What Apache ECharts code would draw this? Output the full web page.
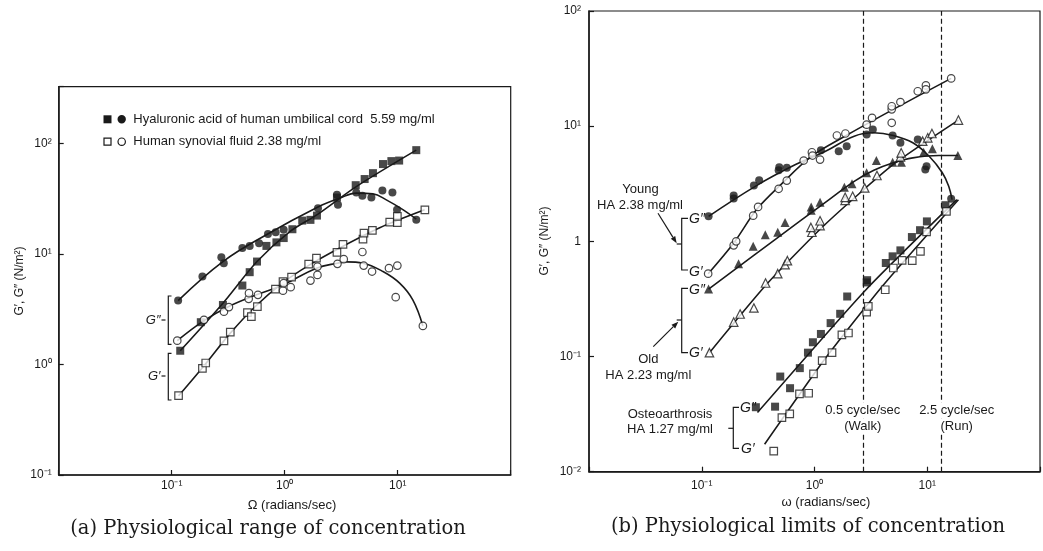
<!DOCTYPE html>
<html><head><meta charset="utf-8">
<script src="https://cdn.jsdelivr.net/npm/echarts@6/dist/echarts.min.js"></script>
<style>html,body{margin:0;padding:0;background:#fff}#c{width:1043px;height:551px}</style>
</head><body><div id="c"></div>
<script>
// ---------- tick labels ----------
const leftXTickValues = [0.1, 1, 10];
const leftXTickLabels = ['10\u207B\u00B9', '10\u2070', '10\u00B9'];
const leftYTickValues = [0.1, 1, 10, 100];
const leftYTickLabels = ['10\u207B\u00B9', '10\u2070', '10\u00B9', '10\u00B2'];
const rightXTickValues = [0.1, 1, 10];
const rightXTickLabels = ['10\u207B\u00B9', '10\u2070', '10\u00B9'];
const rightYTickValues = [0.01, 0.1, 1, 10, 100];
const rightYTickLabels = ['10\u207B\u00B2', '10\u207B\u00B9', '1', '10\u00B9', '10\u00B2'];

// ---------- (a) left panel data: [omega, modulus] ----------
const umbGp = [[0.119,1.33],[0.181,2.41],[0.284,3.45],[0.422,5.17],[0.49,6.83],[0.569,8.52],[0.689,11.8],[0.845,12.7],[0.98,13.9],[1.17,16.7],[1.43,20],[1.69,20.3],[1.93,22.2],[2.9,32.3],[4.25,41.8],[5.1,47.5],[6.04,53.7],[7.41,64.9],[8.79,69],[10.3,69.8],[14.6,86.7]];
const umbGpp = [[0.114,3.78],[0.187,6.24],[0.275,9.34],[0.289,8.24],[0.422,11.3],[0.49,11.8],[0.593,12.5],[0.711,15.1],[0.832,15.7],[0.98,16.5],[1.97,25.9],[2.9,34.2],[2.96,27.8],[4.3,35.9],[4.87,33.5],[5.85,32.3],[7.32,37.4],[8.98,35.9],[9.86,25],[14.6,20.3]];
const synGp = [[0.115,0.522],[0.187,0.92],[0.2,1.03],[0.29,1.63],[0.33,1.96],[0.468,2.94],[0.507,2.71],[0.573,3.33],[0.828,4.8],[0.966,5.61],[1.15,6.15],[1.63,8.07],[1.91,9.15],[2.9,10.3],[3.28,12.2],[4.93,13.6],[5.03,15.4],[5.97,16.3],[8.5,19.4],[9.93,19.2],[9.93,21.8],[17.4,25]];
const synGpp = [[0.112,1.64],[0.193,2.53],[0.29,3.0],[0.321,3.3],[0.48,3.92],[0.483,4.41],[0.58,4.26],[0.966,4.65],[0.98,5.43],[1.13,5.0],[1.69,5.73],[1.95,6.45],[1.95,7.67],[2.93,8.12],[3.33,8.96],[4.87,10.4],[5.0,7.84],[5.93,6.92],[8.37,7.42],[9.93,7.84],[9.6,4.06],[16.7,2.23]];
const umbGpCurve = [[0.119,1.33],[0.284,3.58],[0.569,8.52],[1.11,15.9],[1.97,22.9],[4.3,40.6],[14.6,86.7]];
const umbGppCurve = [[0.114,3.78],[0.284,8.52],[0.689,14.9],[1.97,26.5],[3.07,31.9],[4.3,35.4],[6.04,34.9],[7.93,30.8],[11.2,25],[14.6,20.6]];
const synGpCurve = [[0.115,0.52],[0.196,0.99],[0.326,1.89],[0.543,3.31],[0.96,5.47],[1.66,7.95],[3.07,11.3],[6.93,17.2],[17.3,25]];
const synGppCurve = [[0.112,1.64],[0.193,2.49],[0.326,3.38],[0.562,4.26],[0.966,5.24],[1.91,7.42],[2.93,8.24],[3.52,8.46],[4.93,8.24],[7.41,6.92],[10.4,5.43],[13.6,3.83],[16.7,2.23]];

// ---------- (b) right panel data ----------
const youngGpp = [[0.115,1.65],[0.192,2.5],[0.192,2.35],[0.29,3.05],[0.323,3.39],[0.481,4.14],[0.487,4.4],[0.568,4.35],[1.14,6.18],[1.64,6.06],[1.93,6.7],[2.9,8.47],[3.29,9.36],[4.93,8.3],[5.78,7.17],[8.24,7.66],[9.61,4.2],[9.86,4.49],[16.3,2.34]];
const youngGp = [[0.114,0.524],[0.192,0.923],[0.202,1.0],[0.286,1.67],[0.316,1.99],[0.481,2.86],[0.568,3.37],[0.802,5.03],[0.948,5.94],[0.96,5.56],[1.12,5.13],[1.58,8.3],[1.88,8.64],[2.9,10.3],[3.24,11.8],[4.84,10.7],[4.84,14],[4.84,14.9],[5.78,16.2],[8.24,20.1],[9.73,22.6],[9.73,20.9],[16.3,26]];
const oldGpp = [[0.115,0.385],[0.212,0.64],[0.286,0.905],[0.366,1.14],[0.472,1.2],[0.548,1.46],[0.935,1.86],[0.935,1.99],[1.12,2.18],[1.84,2.95],[2.15,3.17],[2.9,3.94],[3.54,5.03],[4.93,4.86],[5.9,4.86],[9.29,5.94],[11.1,6.36],[18.7,5.56]];
const oldGp = [[0.117,0.108],[0.192,0.199],[0.219,0.234],[0.29,0.264],[0.368,0.435],[0.472,0.524],[0.548,0.627],[0.575,0.679],[0.948,1.2],[0.929,1.32],[1.12,1.37],[1.12,1.51],[1.87,2.27],[1.87,2.41],[2.18,2.46],[2.79,2.91],[3.58,3.73],[5.78,5.42],[5.87,5.87],[9.11,7.41],[10.1,7.93],[11,8.64],[18.9,11.3]];
const oaGpp = [[0.302,0.0363],[0.447,0.0367],[0.497,0.067],[0.607,0.0531],[0.741,0.0793],[0.875,0.108],[0.968,0.133],[1.14,0.157],[1.39,0.195],[1.69,0.235],[1.95,0.332],[2.9,0.44],[2.93,0.46],[4.29,0.649],[4.93,0.741],[5.78,0.835],[7.31,1.09],[8.63,1.25],[9.93,1.49],[14.5,2.06]];
const oaGp = [[0.435,0.0151],[0.514,0.0295],[0.603,0.0318],[0.736,0.0474],[0.887,0.048],[0.98,0.0707],[1.17,0.0923],[1.43,0.108],[1.75,0.154],[2.0,0.16],[2.9,0.243],[3.0,0.272],[4.24,0.38],[5.0,0.587],[5.99,0.684],[7.36,0.679],[8.7,0.818],[9.86,1.21],[14.8,1.82]];
const youngGppCurve = [[0.115,1.65],[0.306,3.05],[0.679,4.64],[1.24,6.03],[2.25,8.19],[3.36,8.76],[5.0,8.3],[7.45,7.17],[10.4,5.48],[13.6,3.94],[15.5,3.01],[16.6,2.3]];
const youngGpCurve = [[0.114,0.524],[0.193,0.974],[0.306,1.89],[0.503,3.11],[0.935,5.46],[1.84,8.13],[5.0,14],[16.3,26]];
const oldGppCurve = [[0.115,0.385],[0.456,1.05],[1.24,2.17],[2.25,3.32],[3.36,4.14],[5.0,4.81],[7.45,5.31],[12.7,5.56],[18.7,5.56]];
const oldGpCurve = [[0.117,0.108],[0.373,0.42],[1.24,1.4],[5.0,4.65],[18.9,11.3]];
const oaGppCurve = [[0.312,0.0326],[2.86,0.38],[18.3,2.3]];
const oaGpCurve = [[0.361,0.0173],[1.24,0.0955],[4.1,0.42],[18.9,2.3]];
const activityOmega = [2.7, 13.3];

// ---------- chart ----------
const FONT = "'Liberation Sans', Arial, Helvetica, sans-serif";
const INK = '#1a1a1a';
function labelFor(vals, labels) {
  return function (v) {
    for (let i = 0; i < vals.length; i++) {
      if (Math.abs(Math.log10(vals[i]) - Math.log10(v)) < 1e-6) return labels[i];
    }
    return '';
  };
}
function logAxis(gridIndex, min, max, vals, labels, margin) {
  return {
    type: 'log', logBase: 10, gridIndex, min, max,
    axisLine: { show: true, lineStyle: { color: INK, width: 1.5 } },
    axisTick: { show: true, inside: true, length: 5, lineStyle: { color: INK, width: 1.2 } },
    axisLabel: { show: true, formatter: labelFor(vals, labels), color: INK, fontFamily: FONT, fontSize: 12, margin, showMinLabel: true, showMaxLabel: true },
    splitLine: { show: false }, minorTick: { show: false }
  };
}
function pts(data, xi, yi, symbol, filled, size) {
  return {
    type: 'scatter', xAxisIndex: xi, yAxisIndex: yi, data, symbol, symbolSize: size,
    itemStyle: filled ? { color: INK } : { color: '#fff', borderColor: INK, borderWidth: 1.2 },
    z: 5, silent: true
  };
}
function curve(data, xi, yi, smooth) {
  return {
    type: 'line', xAxisIndex: xi, yAxisIndex: yi, data, smooth, showSymbol: false, symbol: 'none',
    lineStyle: { color: INK, width: 1.6 }, z: 3, silent: true
  };
}
function txt(x, y, text, opts) {
  return Object.assign({
    type: 'text', x, y, silent: true,
    style: Object.assign({ text, fill: INK, font: '13px ' + FONT, align: 'center', verticalAlign: 'middle', textAlign: 'center', textVerticalAlign: 'middle' }, opts || {})
  });
}
function pl(points, w) {
  return { type: 'polyline', silent: true, shape: { points }, style: { stroke: INK, lineWidth: w || 1.2, fill: null } };
}
function arrow(x1, y1, x2, y2) {
  const a = Math.atan2(y2 - y1, x2 - x1), L = 7, W = 2.6;
  const bx = x2 - L * Math.cos(a), by = y2 - L * Math.sin(a);
  return [
    { type: 'line', silent: true, shape: { x1, y1, x2: bx, y2: by }, style: { stroke: INK, lineWidth: 1.2 } },
    { type: 'polygon', silent: true, shape: { points: [[x2, y2], [bx - W * Math.sin(a), by + W * Math.cos(a)], [bx + W * Math.sin(a), by - W * Math.cos(a)]] }, style: { fill: INK } }
  ];
}
const italic = { font: 'italic 14px ' + FONT, align: 'left', textAlign: 'left' };
const whiteBg = { backgroundColor: '#fff', padding: [1, 2] };
const CAPTION_FONT = '19.5px "DejaVu Serif", serif';

const graphics = [
  // left legend
  { type: 'rect', silent: true, shape: { x: 103.5, y: 115.3, width: 8, height: 8 }, style: { fill: INK } },
  { type: 'circle', silent: true, shape: { cx: 121.7, cy: 119.3, r: 4.2 }, style: { fill: INK } },
  txt(133.3, 119.3, 'Hyaluronic acid of human umbilical cord  5.59 mg/ml', { align: 'left', textAlign: 'left' }),
  { type: 'rect', silent: true, shape: { x: 104, y: 138.2, width: 7, height: 7 }, style: { fill: '#fff', stroke: INK, lineWidth: 1.2 } },
  { type: 'circle', silent: true, shape: { cx: 121.7, cy: 141.7, r: 3.7 }, style: { fill: '#fff', stroke: INK, lineWidth: 1.2 } },
  txt(133.3, 141.7, 'Human synovial fluid 2.38 mg/ml', { align: 'left', textAlign: 'left' }),
  // left brackets
  pl([[171.5, 296], [168.3, 296], [168.3, 344.3], [171.5, 344.3]]),
  pl([[161.5, 320], [165.5, 320]]),
  txt(160.5, 320, 'G\u2033', { font: 'italic 13px ' + FONT, align: 'right', textAlign: 'right' }),
  pl([[171.5, 353.3], [168.3, 353.3], [168.3, 400], [171.5, 400]]),
  pl([[161.5, 376], [165.5, 376]]),
  txt(160.5, 376, 'G\u2032', { font: 'italic 13px ' + FONT, align: 'right', textAlign: 'right' }),
  // axis titles
  txt(292, 505, '\u03A9 (radians/sec)', { font: '13px ' + FONT }),
  txt(826, 502, '\u03C9 (radians/sec)', { font: '13px ' + FONT }),
  Object.assign(txt(0, 0, 'G\u2032, G\u2033 (N/m\u00B2)', { font: '12px ' + FONT }), { x: 20, y: 281, rotation: Math.PI / 2 }),
  Object.assign(txt(0, 0, 'G\u2032, G\u2033 (N/m\u00B2)', { font: '12px ' + FONT }), { x: 545, y: 241, rotation: Math.PI / 2 }),
  // captions
  txt(268, 529, '(a) Physiological range of concentration', { font: CAPTION_FONT }),
  txt(808, 527, '(b) Physiological limits of concentration', { font: CAPTION_FONT }),
  // right panel annotations
  txt(640.5, 189.3, 'Young'), txt(640, 205, 'HA 2.38 mg/ml'),
  pl([[688, 218.3], [681.7, 218.3], [681.7, 270], [688, 270]]),
  pl([[676.7, 244], [681.7, 244]]),
  txt(689, 219.3, 'G\u2033', italic), txt(689, 271.7, 'G\u2032', italic),
  ...arrow(658, 213.3, 676.7, 243.3),
  txt(648.3, 359.3, 'Old'), txt(648.3, 375, 'HA 2.23 mg/ml'),
  pl([[688, 288.3], [681.7, 288.3], [681.7, 352.7], [688, 352.7]]),
  pl([[676.7, 320], [681.7, 320]]),
  txt(689, 290, 'G\u2033', italic), txt(689, 353.3, 'G\u2032', italic),
  ...arrow(653.3, 346.7, 678.3, 321.7),
  txt(670, 414.3, 'Osteoarthrosis'), txt(670, 429.3, 'HA 1.27 mg/ml'),
  pl([[739, 407.3], [733.3, 407.3], [733.3, 448.3], [739, 448.3]]),
  pl([[728.3, 428.3], [733.3, 428.3]]),
  txt(740, 408.3, 'G\u2033', italic), txt(741, 449.3, 'G\u2032', italic),
  txt(862.7, 410, '0.5 cycle/sec', whiteBg), txt(862.7, 426, '(Walk)', whiteBg),
  txt(956.7, 410, '2.5 cycle/sec', whiteBg), txt(956.7, 426, '(Run)', whiteBg)
];
graphics.forEach(g => { g.z = 100; });

const option = {
  animation: false,
  backgroundColor: '#fff',
  grid: [
    { left: 58.7, top: 86.7, width: 452, height: 388.3, show: true, borderColor: INK, borderWidth: 1.2, backgroundColor: 'transparent' },
    { left: 589, top: 11, width: 461.4, height: 460.7, show: true, borderColor: INK, borderWidth: 1.2, backgroundColor: 'transparent' }
  ],
  xAxis: [
    logAxis(0, 0.01, 100, leftXTickValues, leftXTickLabels, 5),
    logAxis(1, 0.01, 100, rightXTickValues, rightXTickLabels, 8)
  ],
  yAxis: [
    logAxis(0, 0.1, 325, leftYTickValues, leftYTickLabels, 7),
    logAxis(1, 0.01, 100, rightYTickValues, rightYTickLabels, 8)
  ],
  series: [
    curve(umbGpCurve, 0, 0, 0.3), curve(umbGppCurve, 0, 0, 0.4), curve(synGpCurve, 0, 0, 0.3), curve(synGppCurve, 0, 0, 0.4),
    pts(umbGp, 0, 0, 'rect', true, 8), pts(umbGpp, 0, 0, 'circle', true, 8),
    pts(synGp, 0, 0, 'rect', false, 7.5), pts(synGpp, 0, 0, 'circle', false, 7.5),
    curve(youngGppCurve, 1, 1, 0.4), curve(youngGpCurve, 1, 1, 0.3), curve(oldGppCurve, 1, 1, 0.4),
    curve(oldGpCurve, 1, 1, 0.2), curve(oaGppCurve, 1, 1, 0.2), curve(oaGpCurve, 1, 1, 0.2),
    Object.assign(pts(youngGpp, 1, 1, 'circle', true, 8), {
      markLine: {
        silent: true, symbol: 'none', label: { show: false },
        lineStyle: { color: INK, width: 1.2, type: [5, 3] },
        data: activityOmega.map(v => ({ xAxis: v }))
      }
    }),
    pts(youngGp, 1, 1, 'circle', false, 7.5),
    pts(oldGpp, 1, 1, 'triangle', true, 9), pts(oldGp, 1, 1, 'triangle', false, 8.5),
    pts(oaGpp, 1, 1, 'rect', true, 8), pts(oaGp, 1, 1, 'rect', false, 7.5)
  ],
  graphic: { elements: graphics }
};
const chart = echarts.init(document.getElementById('c'), null, { renderer: 'canvas' });
chart.setOption(option);
</script></body></html>
